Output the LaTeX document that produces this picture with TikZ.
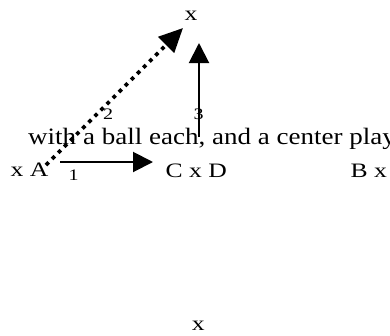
\documentclass[tikz,border=0pt]{standalone}
\usepackage{fontspec}
\setmainfont{Liberation Serif}[FakeStretch=1.25]
\newfontfamily\widefont{Liberation Serif}[FakeStretch=1.15]
\usetikzlibrary{arrows.meta}
\begin{document}
\begin{tikzpicture}[x=1pt,y=1pt,
  txt/.style={inner sep=0pt, anchor=base west, font=\fontsize{20.5}{24}\selectfont},
  num/.style={inner sep=0pt, anchor=base, font=\fontsize{16}{19}\selectfont},
  arr/.style={line width=2pt, -{Triangle[length=20pt,width=20pt]}},
  dotarr/.style={line width=3.8pt, dash pattern=on 3.8pt off 4.8pt, -{Triangle[length=24pt,width=22pt]}}]
\useasboundingbox (0,0) rectangle (390,-335);
\clip (0,0) rectangle (390,-335);
% text
\node[txt, anchor=base] (top) at (191,-20.5) {x};
\node[txt, anchor=base] (bot) at (198.4,-330) {x};
\node[txt] (A) at (10.5,-176.7) {x A};
\node[txt] (CD) at (165.5,-177.3) {C x D};
\node[txt] (B) at (350.5,-177.3) {B x};
\node[txt, font=\widefont\fontsize{23.5}{28}\selectfont] (line) at (28,-144) {with a ball each, and a center play};
\node[num] (n1) at (73.5,-180) {1};
\node[num] (n2) at (108,-119) {2};
\node[num] (n3) at (198.5,-119) {3};
% arrow ends
\coordinate (h0) at (60,-162);
\coordinate (h1) at (153,-162);
\coordinate (v0) at (199,-137);
\coordinate (v1) at (199,-43);
\coordinate (d0) at (46,-165);
\coordinate (d1) at (183,-28);
% arrows
\draw[arr] (h0) -- (h1);
\draw[arr] (v0) -- (v1);
\draw[dotarr] (d0) -- (d1);
\end{tikzpicture}
\end{document}
